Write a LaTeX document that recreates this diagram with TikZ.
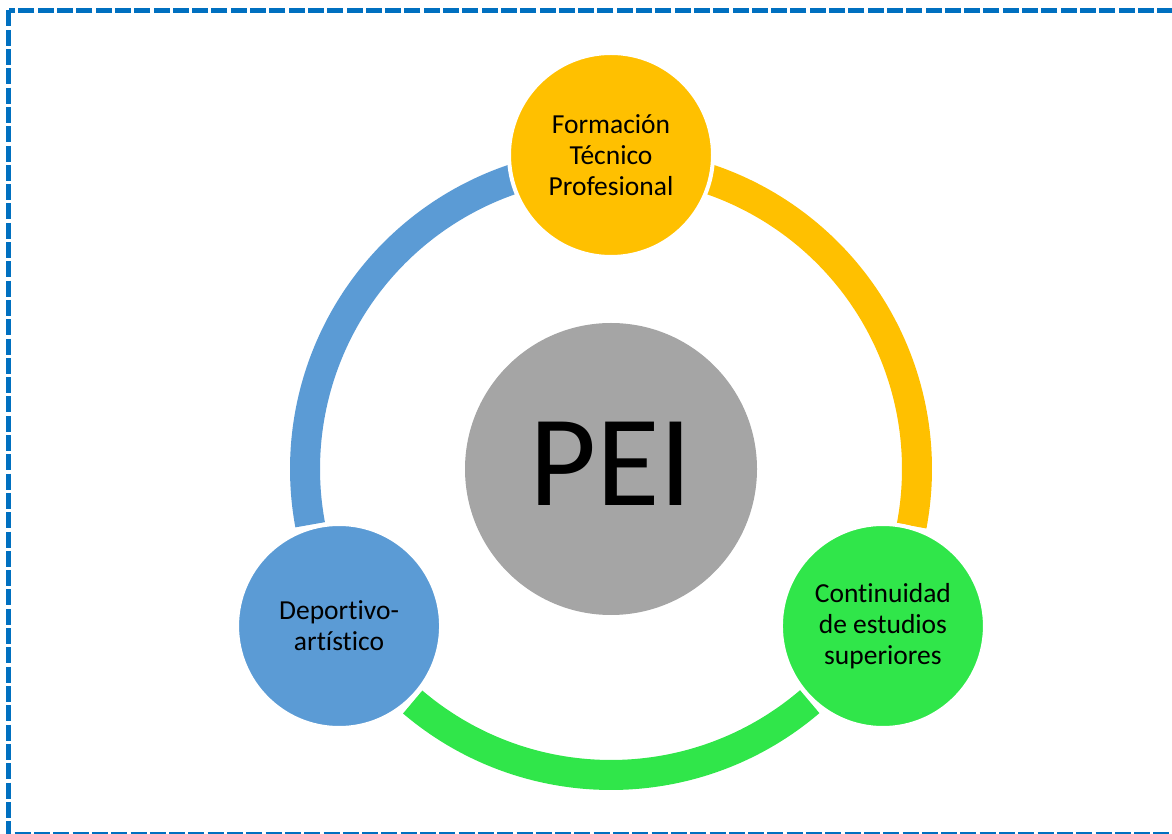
\documentclass[tikz,border=0pt]{standalone}
\usepackage{fontspec}
\setmainfont{Carlito}[Ligatures=NoCommon]
\usetikzlibrary{calc}
\definecolor{azul}{HTML}{5B9BD5}
\definecolor{amarillo}{HTML}{FFC000}
\definecolor{verde}{RGB}{48,230,74}
\definecolor{gris}{HTML}{A5A5A5}
\definecolor{marco}{HTML}{0070C0}

\begin{document}
\begin{tikzpicture}[x=1pt, y=1pt,
    item/.style={circle, draw=white, line width=4pt, minimum size=204pt, inner sep=0pt,
                 align=center, font=\fontsize{27.5}{31}\selectfont},
    band/.style={line width=30pt},
    frame/.style={draw=marco, line width=5pt, dash pattern=on 16pt off 3.3pt}]
    \useasboundingbox (0,0) rectangle (1172,833);
    \draw[frame] (8.5,822.5) rectangle (1176,-1.2);
    \coordinate (o) at (611,364);

    % ring segments
    \draw[band, azul] ($(o)+(190.5:306)$) arc[start angle=190.5, end angle=100, radius=306];
    \draw[band, amarillo] ($(o)+(80:306)$) arc[start angle=80, end angle=-10.7, radius=306];
    \draw[band, verde] ($(o)+(310.5:306)$) arc[start angle=310.5, end angle=229.6, radius=306];

    % circles
    \node[circle, fill=gris, minimum size=292pt, inner sep=0pt,
          font=\fontsize{130}{150}\selectfont] (pei) at (o) {\raisebox{10pt}{PEI}};
    \node[item, fill=amarillo] (ftp) at ($(o)+(90:314)$) {Formación\\Técnico\\Profesional};
    \node[item, fill=azul] (dep) at ($(o)+(210:314)$) {Deportivo-\\artístico};
    \node[item, fill=verde] (ces) at ($(o)+(330:314)$) {Continuidad\\de estudios\\superiores};
\end{tikzpicture}
\end{document}
